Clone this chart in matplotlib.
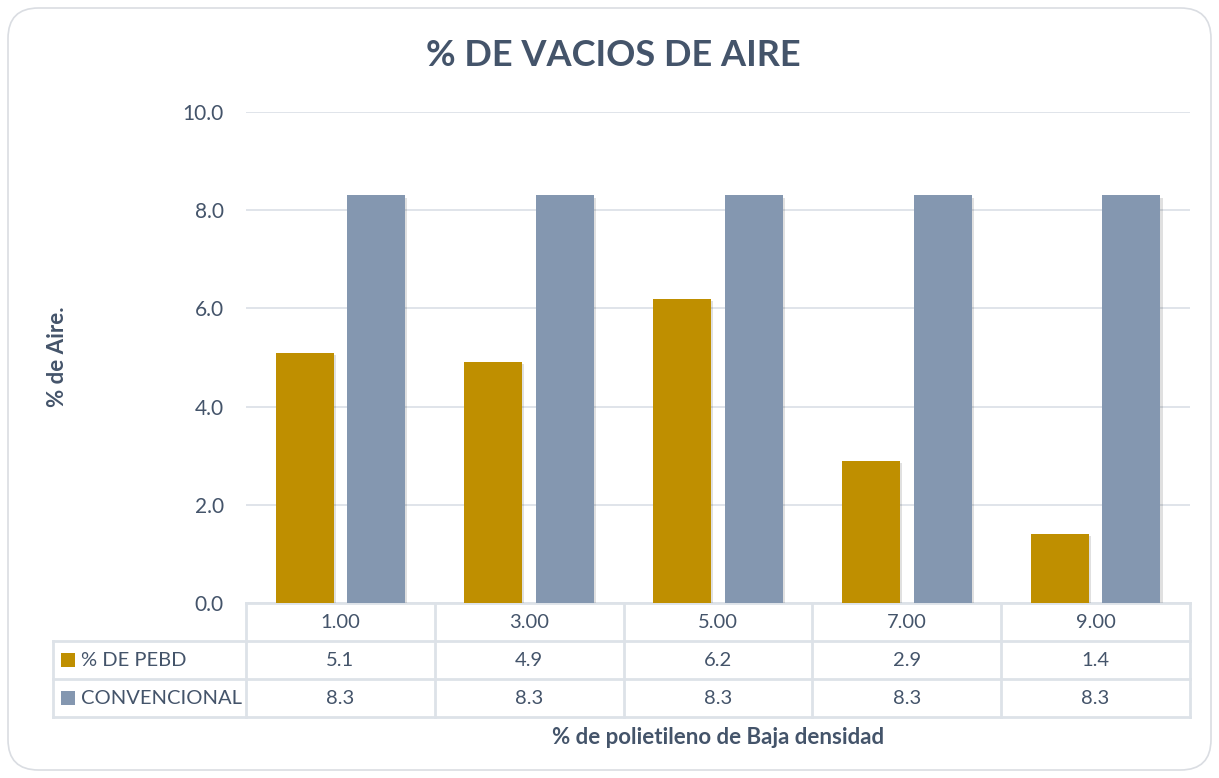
import matplotlib
matplotlib.use("Agg")
import matplotlib.pyplot as plt
from matplotlib.patches import FancyBboxPatch, Rectangle
from matplotlib.lines import Line2D
import matplotlib.patheffects as pe

plt.rcParams['font.family'] = ['Lato', 'DejaVu Sans']

# Data
categories = ["1.00", "3.00", "5.00", "7.00", "9.00"]
pebd = [5.1, 4.9, 6.2, 2.9, 1.4]
convencional = [8.3, 8.3, 8.3, 8.3, 8.3]
series_names = ["% DE PEBD", "CONVENCIONAL"]
yticks = [0, 2, 4, 6, 8, 10]

GOLD = "#BF8F00"
SLATE = "#8497B0"
TEXT = "#44546A"
GRID = "#DDE2E8"

W, H = 1219, 778
fig = plt.figure(figsize=(W / 100, H / 100), dpi=100, facecolor="white")

# rounded outer frame
frame = FancyBboxPatch((8 / W, 8 / H), 1 - 16 / W, 1 - 16 / H,
                       boxstyle="round,pad=0,rounding_size=0.025",
                       transform=fig.transFigure, facecolor="white",
                       edgecolor="#DADDE2", linewidth=1.2, zorder=-5,
                       mutation_aspect=W / H)
fig.patches.append(frame)

left, right = 246 / W, 1190 / W
bottom, top = 1 - 603 / H, 1 - 112 / H
ax = fig.add_axes([left, bottom, right - left, top - bottom], zorder=2)
ax.set_facecolor("none")

x = list(range(len(categories)))
bw = 0.307
off = 0.19
shadow = [pe.SimplePatchShadow(offset=(1.5, -1.5), shadow_rgbFace="black", alpha=0.12), pe.Normal()]
b1 = ax.bar([i - off for i in x], pebd, width=bw, color=GOLD, zorder=3)
b2 = ax.bar([i + off for i in x], convencional, width=bw, color=SLATE, zorder=3)
for b in list(b1) + list(b2):
    b.set_path_effects(shadow)

ax.set_xlim(-0.5, len(categories) - 0.5)
ax.set_ylim(0, 10)
ax.set_yticks(yticks)
ax.set_yticklabels([f"{v:.1f}" for v in yticks], fontsize=15, color=TEXT)
ax.tick_params(axis="y", length=0, pad=16)
ax.set_xticks([])
ax.grid(axis="y", color=GRID, linewidth=1.3, zorder=0)
for s in ax.spines.values():
    s.set_visible(False)

# data table under the plot, in axes coordinates
row_h = 38 / 491
label_left = (53 - 246) / 944
n = len(categories)
trans = ax.get_xaxis_transform()
lk = dict(color=GRID, linewidth=2.0, clip_on=False, zorder=1)

# horizontal rules
ax.add_line(Line2D([-0.5, n - 0.5], [0, 0], transform=trans, **lk))
for r in (1, 2, 3):
    ax.add_line(Line2D([label_left, 1], [-r * row_h, -r * row_h], transform=ax.transAxes, **lk))
# vertical rules
for i in range(n + 1):
    ax.add_line(Line2D([i - 0.5, i - 0.5], [0, -3 * row_h], transform=trans, **lk))
ax.add_line(Line2D([label_left, label_left], [-row_h, -3 * row_h], transform=ax.transAxes, **lk))

fs = 14.5
for i, c in enumerate(categories):
    ax.text(i, -0.5 * row_h, c, transform=trans, ha="center", va="center", fontsize=fs, color=TEXT)
    ax.text(i, -1.5 * row_h, f"{pebd[i]:.1f}", transform=trans, ha="center", va="center", fontsize=fs, color=TEXT)
    ax.text(i, -2.5 * row_h, f"{convencional[i]:.1f}", transform=trans, ha="center", va="center", fontsize=fs, color=TEXT)

sq = 14 / 944
sqh = 14 / 491
for r, (name, col) in enumerate(zip(series_names, [GOLD, SLATE])):
    yc = -(1.5 + r) * row_h
    ax.add_patch(Rectangle((label_left + 8 / 944, yc - sqh / 2), sq, sqh, transform=ax.transAxes,
                           facecolor=col, edgecolor="none", clip_on=False))
    ax.text(label_left + 28 / 944, yc, name, transform=ax.transAxes, ha="left", va="center",
            fontsize=fs, color=TEXT)

fig.text(613 / W, 1 - 55 / H, "% DE VACIOS DE AIRE", ha="center", va="center",
         fontsize=26, fontweight="bold", color=TEXT)
fig.text(57 / W, 1 - 357 / H, "% de Aire.", ha="center", va="center", rotation=90,
         fontsize=16, fontweight="bold", color=TEXT)
fig.text(718 / W, 1 - 737 / H, "% de polietileno de Baja densidad", ha="center", va="center",
         fontsize=16, fontweight="bold", color=TEXT)

fig.savefig("out.png", dpi=100)
